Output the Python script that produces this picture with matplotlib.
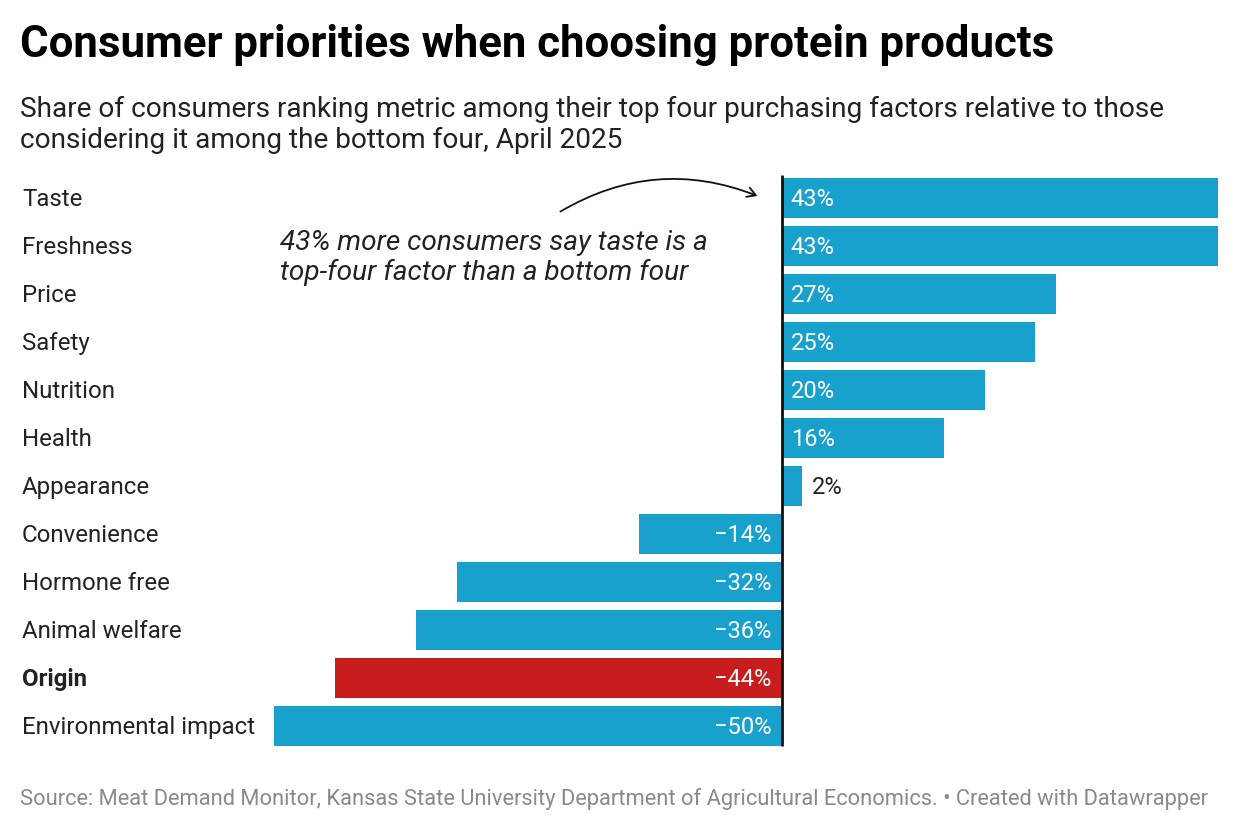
import matplotlib
matplotlib.use("Agg")
import matplotlib.pyplot as plt
from matplotlib.patches import FancyArrowPatch

plt.rcParams["font.family"] = ["Roboto", "DejaVu Sans"]

categories = ["Taste", "Freshness", "Price", "Safety", "Nutrition", "Health",
              "Appearance", "Convenience", "Hormone free", "Animal welfare",
              "Origin", "Environmental impact"]
values = [43, 43, 27, 25, 20, 16, 2, -14, -32, -36, -44, -50]
highlight = "Origin"

BLUE = "#18a1cd"
RED = "#c71e1d"

W, H = 1240, 832
fig = plt.figure(figsize=(W / 100, H / 100), dpi=100)

# axes placed so that -50..43 spans pixel 274..1218, rows 178..746
x0, x1 = 274, 1218
y0, y1 = 178, 746
ax = fig.add_axes([x0 / W, 1 - y1 / H, (x1 - x0) / W, (y1 - y0) / H])
n = len(categories)
bh = 40 / 48
ax.set_xlim(-50, 43)
ax.set_ylim(n - 1 + bh / 2, -bh / 2)
ax.axis("off")

for i, (cat, v) in enumerate(zip(categories, values)):
    color = RED if cat == highlight else BLUE
    ax.barh(i, v, height=bh, color=color, linewidth=0)
    label = f"{v}%" if v >= 0 else f"\u2212{abs(v)}%"
    ty = i + 0.03
    if abs(v) < 5:
        ax.text(v + 1.0, ty, label, ha="left", va="center", fontsize=17, color="#222222")
    elif v > 0:
        ax.text(0.9, ty, label, ha="left", va="center", fontsize=17, color="white")
    else:
        ax.text(-1.0, ty, label, ha="right", va="center", fontsize=17, color="white")
    fig.text(22 / W, 1 - (y0 + 21.5 + 48 * i) / H, cat, ha="left", va="center",
             fontsize=17.3, color="#222222",
             fontweight="bold" if cat == highlight else "normal")

ax.plot([0, 0], [-bh / 2 - 0.06, n - 1 + bh / 2], color="#111111", lw=2,
        solid_capstyle="butt", clip_on=False)

# annotation
fig.text(280 / W, 1 - 258 / H,
         "43% more consumers say taste is a\ntop-four factor than a bottom four",
         ha="left", va="center", fontsize=20.2, style="italic", color="#222222",
         linespacing=1.15)
arrow = FancyArrowPatch((558 / W, 1 - 213 / H), (760 / W, 1 - 197 / H),
                        transform=fig.transFigure, connectionstyle="arc3,rad=-0.25",
                        arrowstyle="->,head_length=6,head_width=3.5", lw=1.3,
                        color="#111111")
fig.patches.append(arrow)

fig.text(20 / W, 1 - 45 / H, "Consumer priorities when choosing protein products",
         ha="left", va="center", fontsize=31.5, fontweight="bold", color="#000000")
fig.text(20 / W, 1 - 125 / H,
         "Share of consumers ranking metric among their top four purchasing factors relative to those\n"
         "considering it among the bottom four, April 2025",
         ha="left", va="center", fontsize=20.2, color="#222222", linespacing=1.18)
fig.text(20 / W, 1 - 799 / H,
         "Source: Meat Demand Monitor, Kansas State University Department of Agricultural Economics. "
         "\u2022 Created with Datawrapper",
         ha="left", va="center", fontsize=15.75, color="#8a8a8a")

fig.savefig("out.png", dpi=100)
